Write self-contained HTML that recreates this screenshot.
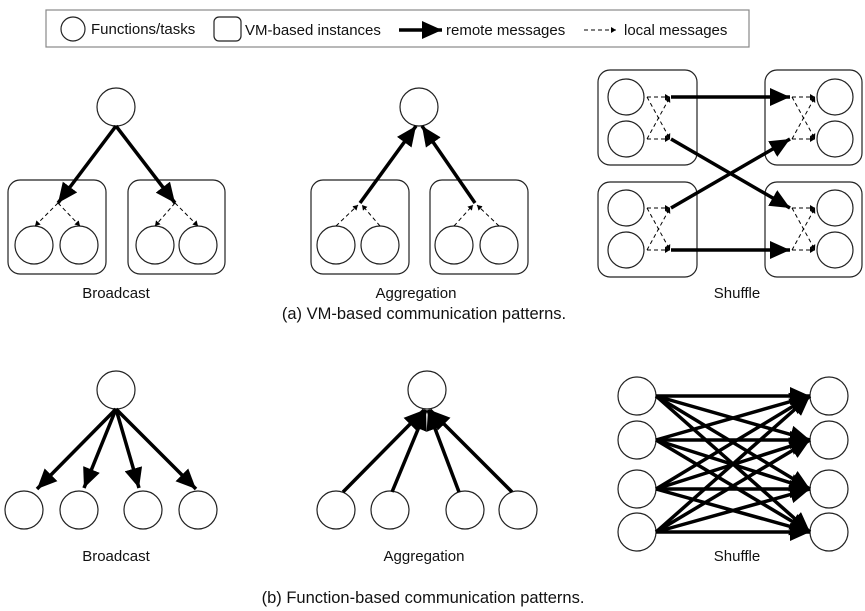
<!DOCTYPE html>
<html><head><meta charset="utf-8"><style>
html,body{margin:0;padding:0;background:#fff;}
svg{display:block;}
text{font-family:"Liberation Sans",Arial,sans-serif;fill:#111;}
</style></head><body>
<svg width="865" height="611" viewBox="0 0 865 611" xmlns="http://www.w3.org/2000/svg">
<defs>
<marker id="big" markerUnits="userSpaceOnUse" markerWidth="22" markerHeight="18" refX="20" refY="9" orient="auto"><path d="M0,0 L20,9 L0,18 z" fill="#000"/></marker>
<marker id="sm" markerUnits="userSpaceOnUse" markerWidth="6" markerHeight="6" refX="5" refY="3" orient="auto"><path d="M0,0 L5,3 L0,6 z" fill="#000"/></marker>
</defs>
<g fill="none" stroke="#222" stroke-width="1.2">
<rect x="46" y="10" width="703" height="37" fill="#fff" stroke="#888"/>
<ellipse cx="73" cy="29" rx="12" ry="12"/>
<rect x="214" y="17" width="27" height="24" rx="5"/>
</g>
<line x1="399" y1="30" x2="442" y2="30" stroke="#000" stroke-width="3.5" marker-end="url(#big)"/>
<line x1="584" y1="30" x2="616" y2="30" stroke="#000" stroke-width="1" stroke-dasharray="4,3" marker-end="url(#sm)"/>
<g font-size="15">
<text x="91" y="34">Functions/tasks</text>
<text x="245" y="35">VM-based instances</text>
<text x="446" y="35">remote messages</text>
<text x="624" y="35">local messages</text>
</g>

<g fill="#fff" stroke="#222" stroke-width="1.2">
<circle cx="116" cy="107" r="19"/>
<rect x="8" y="180" width="98" height="94" rx="12"/>
<rect x="128" y="180" width="97" height="94" rx="12"/>
<circle cx="34" cy="245" r="19"/><circle cx="79" cy="245" r="19"/>
<circle cx="155" cy="245" r="19"/><circle cx="198" cy="245" r="19"/>

<circle cx="419" cy="107" r="19"/>
<rect x="311" y="180" width="98" height="94" rx="12"/>
<rect x="430" y="180" width="98" height="94" rx="12"/>
<circle cx="336" cy="245" r="19"/><circle cx="380" cy="245" r="19"/>
<circle cx="454" cy="245" r="19"/><circle cx="499" cy="245" r="19"/>

<rect x="598" y="70" width="99" height="95" rx="12"/>
<rect x="765" y="70" width="97" height="95" rx="12"/>
<rect x="598" y="182" width="99" height="95" rx="12"/>
<rect x="765" y="182" width="97" height="95" rx="12"/>
<circle cx="626" cy="97" r="18"/><circle cx="626" cy="139" r="18"/>
<circle cx="626" cy="208" r="18"/><circle cx="626" cy="250" r="18"/>
<circle cx="835" cy="97" r="18"/><circle cx="835" cy="139" r="18"/>
<circle cx="835" cy="208" r="18"/><circle cx="835" cy="250" r="18"/>
</g>
<g stroke="#000" stroke-width="3.5" fill="none">
<line x1="116" y1="126" x2="58" y2="203" marker-end="url(#big)"/>
<line x1="116" y1="126" x2="175" y2="203" marker-end="url(#big)"/>
<line x1="360" y1="203" x2="416" y2="126" marker-end="url(#big)"/>
<line x1="475" y1="203" x2="422" y2="126" marker-end="url(#big)"/>
<line x1="671" y1="97" x2="790" y2="97" marker-end="url(#big)"/>
<line x1="671" y1="139" x2="790" y2="208" marker-end="url(#big)"/>
<line x1="671" y1="208" x2="790" y2="139" marker-end="url(#big)"/>
<line x1="671" y1="250" x2="790" y2="250" marker-end="url(#big)"/>
</g>
<g stroke="#000" stroke-width="1" stroke-dasharray="4,3" fill="none" marker-end="url(#sm)">
<line x1="58" y1="203" x2="35" y2="226"/><line x1="58" y1="203" x2="80" y2="226"/>
<line x1="175" y1="203" x2="155" y2="226"/><line x1="175" y1="203" x2="198" y2="226"/>
<line x1="336" y1="226" x2="358" y2="205"/><line x1="380" y1="226" x2="362" y2="205"/>
<line x1="454" y1="226" x2="473" y2="205"/><line x1="499" y1="226" x2="477" y2="205"/>
<line x1="647" y1="97" x2="670" y2="97"/><line x1="647" y1="139" x2="670" y2="97"/>
<line x1="647" y1="139" x2="670" y2="139"/><line x1="647" y1="97" x2="670" y2="139"/>
<line x1="647" y1="208" x2="670" y2="208"/><line x1="647" y1="250" x2="670" y2="208"/>
<line x1="647" y1="250" x2="670" y2="250"/><line x1="647" y1="208" x2="670" y2="250"/>
<line x1="792" y1="97" x2="815" y2="97"/><line x1="792" y1="97" x2="815" y2="139"/>
<line x1="792" y1="139" x2="815" y2="139"/><line x1="792" y1="139" x2="815" y2="97"/>
<line x1="792" y1="208" x2="815" y2="208"/><line x1="792" y1="208" x2="815" y2="250"/>
<line x1="792" y1="250" x2="815" y2="250"/><line x1="792" y1="250" x2="815" y2="208"/>
</g>
<g font-size="15" text-anchor="middle">
<text x="116" y="298">Broadcast</text>
<text x="416" y="298">Aggregation</text>
<text x="737" y="298">Shuffle</text>
<text x="424" y="319" font-size="16.5">(a) VM-based communication patterns.</text>
</g>

<g fill="#fff" stroke="#222" stroke-width="1.2">
<circle cx="116" cy="390" r="19"/>
<circle cx="24" cy="510" r="19"/><circle cx="79" cy="510" r="19"/>
<circle cx="143" cy="510" r="19"/><circle cx="198" cy="510" r="19"/>
<circle cx="427" cy="390" r="19"/>
<circle cx="336" cy="510" r="19"/><circle cx="390" cy="510" r="19"/>
<circle cx="465" cy="510" r="19"/><circle cx="518" cy="510" r="19"/>
<circle cx="637" cy="396" r="19"/><circle cx="637" cy="440" r="19"/>
<circle cx="637" cy="489" r="19"/><circle cx="637" cy="532" r="19"/>
<circle cx="829" cy="396" r="19"/><circle cx="829" cy="440" r="19"/>
<circle cx="829" cy="489" r="19"/><circle cx="829" cy="532" r="19"/>
</g>
<g stroke="#000" stroke-width="3.5" fill="none" marker-end="url(#big)">
<line x1="116" y1="409" x2="37" y2="489"/>
<line x1="116" y1="409" x2="84" y2="488"/>
<line x1="116" y1="409" x2="139" y2="488"/>
<line x1="116" y1="409" x2="196" y2="489"/>
<line x1="343" y1="492" x2="424" y2="410"/>
<line x1="392" y1="492" x2="426" y2="410"/>
<line x1="459" y1="492" x2="428" y2="410"/>
<line x1="512" y1="492" x2="430" y2="410"/>
<line x1="656" y1="396" x2="810" y2="396"/><line x1="656" y1="396" x2="810" y2="440"/><line x1="656" y1="396" x2="810" y2="489"/><line x1="656" y1="396" x2="810" y2="532"/>
<line x1="656" y1="440" x2="810" y2="396"/><line x1="656" y1="440" x2="810" y2="440"/><line x1="656" y1="440" x2="810" y2="489"/><line x1="656" y1="440" x2="810" y2="532"/>
<line x1="656" y1="489" x2="810" y2="396"/><line x1="656" y1="489" x2="810" y2="440"/><line x1="656" y1="489" x2="810" y2="489"/><line x1="656" y1="489" x2="810" y2="532"/>
<line x1="656" y1="532" x2="810" y2="396"/><line x1="656" y1="532" x2="810" y2="440"/><line x1="656" y1="532" x2="810" y2="489"/><line x1="656" y1="532" x2="810" y2="532"/>
</g>
<g font-size="15" text-anchor="middle">
<text x="116" y="561">Broadcast</text>
<text x="424" y="561">Aggregation</text>
<text x="737" y="561">Shuffle</text>
<text x="423" y="603" font-size="16.5">(b) Function-based communication patterns.</text>
</g>
</svg>
</body></html>
